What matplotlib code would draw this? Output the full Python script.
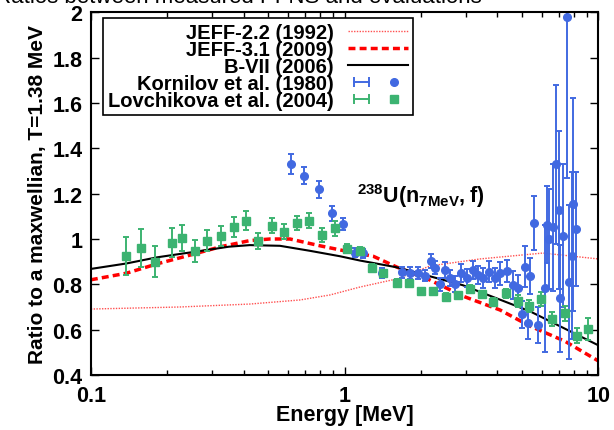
import numpy as np
import matplotlib
matplotlib.use("Agg")
from matplotlib import pyplot as plt
from matplotlib.lines import Line2D
from matplotlib.legend_handler import HandlerLine2D, HandlerTuple

plt.rcParams['font.family'] = ['Liberation Sans', 'DejaVu Sans']
plt.rcParams['mathtext.fontset'] = 'custom'
plt.rcParams['mathtext.rm'] = 'Liberation Sans'
plt.rcParams['mathtext.bf'] = 'Liberation Sans:bold'

# evaluations
jeff22_e = [0.1, 0.224, 0.423, 0.667, 0.875, 1.149, 1.607, 2.169, 3.415, 6.047, 10.0]
jeff22_r = [0.691, 0.700, 0.713, 0.731, 0.753, 0.788, 0.824, 0.881, 0.912, 0.938, 0.912]

jeff31_e = [0.1, 0.138, 0.182, 0.246, 0.325, 0.423, 0.508, 0.609, 0.80, 1.049, 1.296,
            1.607, 2.169, 2.926, 4.094, 5.376, 7.385, 10.0]
jeff31_r = [0.82, 0.849, 0.89, 0.929, 0.966, 0.993, 1.0, 1.0, 0.97, 0.943, 0.924,
            0.876, 0.819, 0.748, 0.687, 0.616, 0.549, 0.462]

b7_e = [0.1, 0.138, 0.182, 0.269, 0.35, 0.423, 0.556, 0.729, 0.958, 1.149, 1.607, 2.926, 5.376, 10.0]
b7_r = [0.868, 0.892, 0.919, 0.947, 0.966, 0.973, 0.970, 0.948, 0.924, 0.905, 0.875, 0.796, 0.681, 0.531]

# Kornilov et al. (1980)
korn_e = [0.614, 0.693, 0.792, 0.894, 0.982, 1.098, 1.184, 1.399, 1.678, 1.809,
          1.950, 2.073, 2.183, 2.269, 2.374, 2.485, 2.600, 2.721, 2.873, 3.027,
          3.195, 3.362, 3.518, 3.715, 3.912, 4.094, 4.350, 4.619, 4.834, 4.986,
          5.137, 5.293, 5.376, 5.575, 5.797, 6.160, 6.290, 6.405, 6.606, 6.788,
          7.014, 7.058, 7.270, 7.540, 7.657, 7.848, 7.963, 8.162]
korn_r = [1.331, 1.279, 1.220, 1.113, 1.066, 0.940, 0.938, 0.850, 0.853, 0.850,
          0.850, 0.838, 0.903, 0.874, 0.800, 0.863, 0.827, 0.800, 0.850, 0.827,
          0.863, 0.841, 0.827, 0.856, 0.827, 0.849, 0.859, 0.797, 0.783, 0.668,
          0.878, 0.628, 0.838, 1.070, 0.621, 0.783, 1.062, 1.000, 1.051, 1.330,
          1.128, 0.738, 1.015, 1.980, 0.812, 0.927, 1.153, 1.044]
korn_d = [0.045, 0.038, 0.037, 0.032, 0.028, 0.020, 0.020, 0.020, 0.025, 0.025,
          0.025, 0.025, 0.030, 0.030, 0.030, 0.035, 0.035, 0.035, 0.040, 0.040,
          0.040, 0.040, 0.045, 0.045, 0.045, 0.050, 0.050, 0.060, 0.060, 0.060,
          0.090, 0.070, 0.080, 0.120, 0.080, 0.280, 0.170, 0.220, 0.280, 0.350,
          0.350, 0.235, 0.315, 0.710, 0.340, 0.370, 0.470, 0.250]

# Lovchikova et al. (2004)
lov_e = [0.138, 0.158, 0.179, 0.208, 0.228, 0.257, 0.286, 0.325, 0.366, 0.408,
         0.454, 0.516, 0.576, 0.647, 0.723, 0.811, 0.916, 1.018, 1.149, 1.278,
         1.419, 1.603, 1.788, 2.000, 2.235, 2.501, 2.789, 3.110, 3.467, 3.852,
         4.312, 4.808, 5.327, 5.923, 6.545, 7.385, 8.214, 9.074]
lov_r = [0.926, 0.959, 0.900, 0.984, 1.006, 0.948, 0.993, 1.013, 1.052, 1.081,
         0.993, 1.059, 1.032, 1.071, 1.081, 1.018, 1.047, 0.958, 0.948, 0.874,
         0.849, 0.808, 0.805, 0.771, 0.771, 0.745, 0.753, 0.780, 0.757, 0.724,
         0.761, 0.727, 0.705, 0.735, 0.647, 0.672, 0.574, 0.603]
lov_d = [0.084, 0.083, 0.068, 0.064, 0.057, 0.049, 0.047, 0.043, 0.044, 0.042,
         0.035, 0.034, 0.033, 0.030, 0.034, 0.032, 0.033, 0.020, 0.015, 0.015,
         0.015, 0.015, 0.015, 0.015, 0.015, 0.015, 0.015, 0.015, 0.015, 0.015,
         0.020, 0.026, 0.026, 0.030, 0.033, 0.033, 0.033, 0.050]

blue = '#4169e1'
green = '#3cb371'
pink = '#ff5050'

fig = plt.figure(figsize=(6.14, 4.31), dpi=100)
ax = fig.add_axes([0.148, 0.1276, 0.8265, 0.8415])

ax.plot(jeff22_e, jeff22_r, color=pink, lw=1.0, ls=(0, (1, 1)))
ax.plot(jeff31_e, jeff31_r, color='red', lw=2.5, ls=(0, (2, 1.2)))
ax.plot(b7_e, b7_r, color='black', lw=1.5)
ax.errorbar(korn_e, korn_r, yerr=korn_d, fmt='o', color=blue, ms=5.5,
            elinewidth=1.4, capsize=2.2, capthick=1.4)
ax.errorbar(lov_e, lov_r, yerr=lov_d, fmt='s', color=green, ms=5.5,
            elinewidth=1.4, capsize=2.2, capthick=1.4)

ax.set_xscale('log')
ax.set_xlim(0.1, 10)
ax.set_ylim(0.4, 2.0)
ax.set_yticks(np.arange(0.4, 2.01, 0.2))
ax.set_xticks([0.1, 1, 10])
ax.set_xticklabels(['0.1', '1', '10'])
ax.set_yticklabels(['0.4', '0.6', '0.8', '1', '1.2', '1.4', '1.6', '1.8', '2'])
ax.tick_params(which='both', direction='in', top=True, right=True, labelsize=15.5)
ax.tick_params(which='major', length=6, width=1)
ax.tick_params(which='minor', length=3.5, width=1)
ax.tick_params(axis='x', pad=7)
ax.tick_params(axis='y', pad=6)
for t in ax.get_xticklabels() + ax.get_yticklabels():
    t.set_fontweight('bold')
for s in ax.spines.values():
    s.set_linewidth(1.5)

ax.set_xlabel('Energy [MeV]', fontsize=15.5, fontweight='bold', labelpad=-1)
ax.set_ylabel('Ratio to a maxwellian, T=1.38 MeV', fontsize=15, fontweight='bold', labelpad=4)

ax.text(1.12, 1.163, r'$\mathbf{^{238}U(n_{7MeV},f)}$', fontsize=15.5)

# caption above the frame, cut by the top edge as in the source
fig.text(0.785, 0.993, 'Ratios between measured PFNS and evaluations', fontsize=16, ha='right')

h22 = Line2D([], [], color=pink, lw=1.0, ls=(0, (1, 1)))
h31 = Line2D([], [], color='red', lw=2.5, ls=(0, (2, 1.2)))
hb7 = Line2D([], [], color='black', lw=1.5)
kc = Line2D([], [], color=blue, lw=1.4, marker='|', ms=7, mew=1.4)
kp = Line2D([], [], color=blue, ls='none', marker='o', ms=5.5)
lc = Line2D([], [], color=green, lw=1.4, marker='|', ms=7, mew=1.4)
lp = Line2D([], [], color=green, ls='none', marker='s', ms=5.5)

labels = ['JEFF-2.2 (1992)', 'JEFF-3.1 (2009)', 'B-VII (2006)',
          'Kornilov et al. (1980)', 'Lovchikova et al. (2004)']
leg = ax.legend([h22, h31, hb7, (kc, kp), (lc, lp)], labels,
                loc='upper left', bbox_to_anchor=(0.0237, 0.984), borderaxespad=0,
                markerfirst=False, fancybox=False, framealpha=1, edgecolor='black',
                prop={'weight': 'bold', 'size': 14.5}, handlelength=3.0,
                labelspacing=-0.1, borderpad=0.25, handletextpad=0.7,
                handler_map={kc: HandlerLine2D(numpoints=2), lc: HandlerLine2D(numpoints=2),
                             tuple: HandlerTuple(ndivide=None)})
leg.get_frame().set_linewidth(1.2)

fig.savefig('out.png', dpi=100)
